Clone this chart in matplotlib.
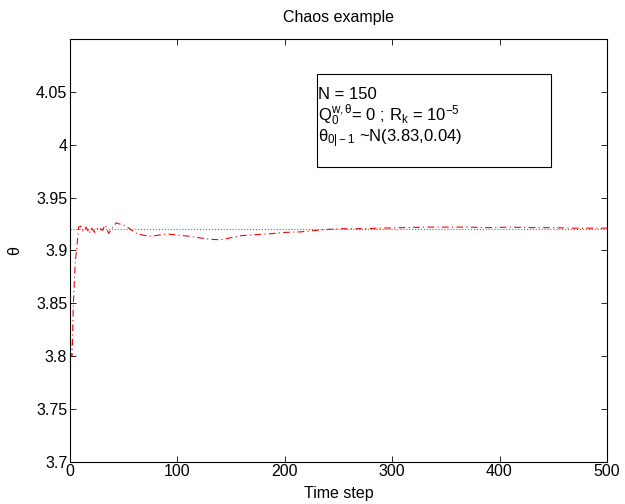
import matplotlib
matplotlib.use("Agg")
import matplotlib.pyplot as plt
from matplotlib.patches import Rectangle

plt.rcParams['font.family'] = ['Liberation Sans', 'DejaVu Sans']
plt.rcParams['mathtext.fontset'] = 'custom'
plt.rcParams['mathtext.rm'] = 'Liberation Sans'
plt.rcParams['mathtext.it'] = 'Liberation Sans'
plt.rcParams['mathtext.sf'] = 'Liberation Sans'

# True parameter value
theta_true = 3.92
t_max = 500

# Estimated parameter (red dash-dot)
est_steps = [0, 1, 2, 3, 4, 5, 6, 7, 8, 10, 12, 15, 18, 20, 23, 26, 30, 33, 36, 40,
             43, 46, 50, 55, 60, 65, 70, 75, 80, 90, 100, 110, 120, 130, 140, 150,
             160, 175, 190, 200, 215, 230, 250, 270, 290, 310, 330, 350, 370, 390,
             410, 430, 450, 470, 500]
est_values = [3.83, 3.80, 3.80, 3.845, 3.87, 3.89, 3.90, 3.91, 3.922, 3.923, 3.918,
              3.922, 3.916, 3.921, 3.917, 3.922, 3.919, 3.924, 3.916, 3.922, 3.926,
              3.925, 3.924, 3.921, 3.917, 3.915, 3.914, 3.9135, 3.914, 3.9155, 3.9145,
              3.9135, 3.912, 3.9105, 3.910, 3.912, 3.914, 3.915, 3.916, 3.917, 3.9175,
              3.919, 3.9205, 3.9205, 3.921, 3.9215, 3.922, 3.922, 3.922, 3.9215, 3.922,
              3.9215, 3.9215, 3.921, 3.921]

xticks = [0, 100, 200, 300, 400, 500]
yticks = [3.7, 3.75, 3.8, 3.85, 3.9, 3.95, 4.0, 4.05]
ytick_labels = ['3.7', '3.75', '3.8', '3.85', '3.9', '3.95', '4', '4.05']

FS = 11.5

fig = plt.figure(figsize=(6.25, 5.04), dpi=100)
ax = fig.add_axes([0.112, 0.0839, 0.859, 0.8387])

ax.plot([0, t_max], [theta_true, theta_true], linestyle=':', color='#5070b0', linewidth=0.8)
ax.plot(est_steps, est_values, linestyle=(0, (6, 3, 1, 3)), color='red', linewidth=0.8)

ax.set_xlim(0, 500)
ax.set_ylim(3.7, 4.1)
ax.set_xticks(xticks)
ax.set_yticks(yticks)
ax.set_yticklabels(ytick_labels)
ax.tick_params(direction='in', length=4, labelsize=FS, width=0.6, top=True, right=True,
               labeltop=False, labelright=False, pad=2)
for s in ax.spines.values():
    s.set_linewidth(0.8)

ax.set_title('Chaos example', fontsize=FS, pad=12)
ax.set_xlabel('Time step', fontsize=FS, labelpad=5)
ax.set_ylabel('θ', fontsize=FS, labelpad=10)

txt = ('N = 150\n'
       r'Q$_0^{\mathregular{w,\theta}}$= 0 ; R$_\mathregular{k}$ = 10$^{\mathregular{-5}}$' + '\n'
       r'$\mathregular{\theta_{0|-1}}$ ~N(3.83,0.04)')
ax.text(0.462, 0.886, txt, transform=ax.transAxes, fontsize=12, va='top', ha='left',
        linespacing=1.0)

# box around text
x0 = (316.7 - 70) / 537.0
x1 = (550.7 - 70) / 537.0
y_top = (461.7 - 74) / 422.7
y_bot = (461.7 - 166.7) / 422.7
ax.add_patch(Rectangle((x0, y_bot), x1 - x0, y_top - y_bot, transform=ax.transAxes,
                       fill=False, edgecolor='black', linewidth=0.8))

fig.savefig('out.png', dpi=100)
